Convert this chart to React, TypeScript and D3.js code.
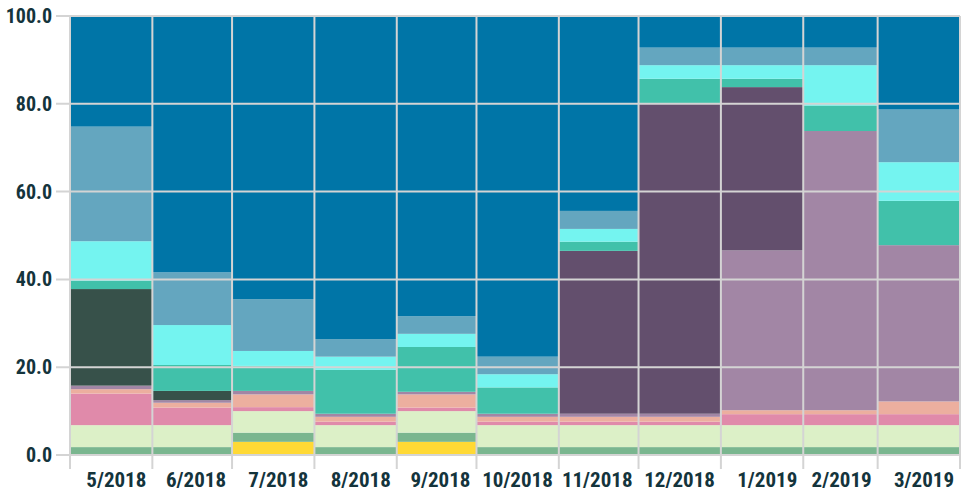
import React from "react";
import * as d3 from "d3";

// months shown on the axis (each bar spans one calendar month)
const months = ["5/2018", "6/2018", "7/2018", "8/2018", "9/2018", "10/2018", "11/2018", "12/2018", "1/2019", "2/2019", "3/2019"];
const monthStarts = ["2018-05-01", "2018-06-01", "2018-07-01", "2018-08-01", "2018-09-01", "2018-10-01", "2018-11-01", "2018-12-01", "2019-01-01", "2019-02-01", "2019-03-01", "2019-04-01"];

// stacked shares, bottom to top
const yellow = [0, 0, 3.0, 0, 3.0, 0, 0, 0, 0, 0, 0];
const green = [1.8, 1.8, 2.1, 1.8, 2.1, 1.8, 1.8, 1.8, 1.8, 1.8, 1.8];
const paleGreen = [5.0, 5.0, 4.9, 5.0, 4.9, 5.0, 5.0, 5.0, 5.0, 5.0, 5.0];
const pink = [7.2, 4.0, 0.9, 0.8, 0.8, 0.8, 0.8, 0.8, 2.5, 2.5, 2.5];
const salmon = [1.0, 1.1, 2.9, 1.1, 3.0, 1.1, 1.1, 1.1, 0.9, 0.9, 2.9];
const mauve = [0.8, 0.6, 0.8, 0.7, 0.6, 0.7, 0.7, 0.7, 36.4, 63.6, 35.6];
const darkGreen = [22.0, 2.1, 0, 0, 0, 0, 0, 0, 0, 0, 0];
const darkPurple = [0, 0, 0, 0, 0, 0, 37.1, 70.7, 37.2, 0, 0];
const teal = [1.9, 5.9, 5.7, 10.0, 10.2, 6.0, 2.1, 5.6, 1.9, 5.8, 10.1];
const cyan = [9.0, 9.1, 3.4, 3.0, 3.0, 3.0, 2.9, 3.1, 3.1, 9.2, 8.8];
const steel = [26.1, 12.0, 11.8, 4.0, 4.0, 4.0, 4.1, 4.0, 4.0, 4.0, 12.0];
const blue = [25.2, 58.4, 64.5, 73.6, 68.4, 77.6, 44.4, 7.2, 7.2, 7.2, 21.3];

const yTicks = [0, 20, 40, 60, 80, 100];

const series = [
  { key: "yellow", values: yellow, color: "#ffd935" },
  { key: "green", values: green, color: "#7ab68f" },
  { key: "paleGreen", values: paleGreen, color: "#dcf0c7" },
  { key: "pink", values: pink, color: "#e08aaa" },
  { key: "salmon", values: salmon, color: "#ecaf9f" },
  { key: "mauve", values: mauve, color: "#a286a5" },
  { key: "darkGreen", values: darkGreen, color: "#37514a" },
  { key: "darkPurple", values: darkPurple, color: "#634f6d" },
  { key: "teal", values: teal, color: "#41c1aa" },
  { key: "cyan", values: cyan, color: "#74f4f0" },
  { key: "steel", values: steel, color: "#64a6bf" },
  { key: "blue", values: blue, color: "#0075a7" },
];

const width = 971;
const height = 489;
const margin = { top: 16, right: 11, bottom: 34, left: 70 };

const font = "'Roboto Condensed', 'Liberation Sans Narrow', 'DejaVu Sans Condensed', sans-serif";
const textColor = "#14343c";
const gridColor = "#d4d4d4";

export default function App() {
  const parse = d3.timeParse("%Y-%m-%d");
  const dates = monthStarts.map((d) => parse(d) as Date);

  const x = d3
    .scaleTime()
    .domain([dates[0], dates[dates.length - 1]])
    .range([margin.left, width - margin.right]);
  const y = d3
    .scaleLinear()
    .domain([0, 100])
    .range([height - margin.bottom, margin.top]);

  const rows = months.map((m, i) => {
    const row: Record<string, number> = {};
    series.forEach((s) => (row[s.key] = s.values[i]));
    return row;
  });
  const stacked = d3.stack<Record<string, number>>().keys(series.map((s) => s.key))(rows);

  return (
    <svg width={width} height={height} style={{ position: "absolute", left: 0, top: 0 }}>
      {stacked.map((layer, si) => (
        <g key={layer.key} fill={series[si].color}>
          {layer.map((d, i) =>
            d[1] - d[0] > 0 ? (
              <rect
                key={i}
                x={x(dates[i])}
                width={x(dates[i + 1]) - x(dates[i])}
                y={y(d[1])}
                height={y(d[0]) - y(d[1])}
              />
            ) : null
          )}
        </g>
      ))}

      {/* grid */}
      <g stroke={gridColor} strokeWidth={2}>
        {yTicks.map((t) => (
          <line key={t} x1={56} x2={width - margin.right} y1={y(t)} y2={y(t)} />
        ))}
        {dates.map((d, i) => (
          <line key={i} x1={x(d)} x2={x(d)} y1={margin.top} y2={height - margin.bottom + 14} />
        ))}
      </g>

      {/* y labels */}
      <g fill={textColor} fontFamily={font} fontWeight="bold" fontSize={20} textAnchor="end">
        {yTicks.map((t) => (
          <text key={t} x={52} y={y(t)} dy="0.35em">
            {d3.format(".1f")(t)}
          </text>
        ))}
      </g>

      {/* x labels, right-aligned to the month end */}
      <g fill={textColor} fontFamily={font} fontWeight="bold" fontSize={21} textAnchor="end">
        {months.map((m, i) => (
          <text key={m} x={x(dates[i + 1]) - 6} y={487}>
            {m}
          </text>
        ))}
      </g>
    </svg>
  );
}
